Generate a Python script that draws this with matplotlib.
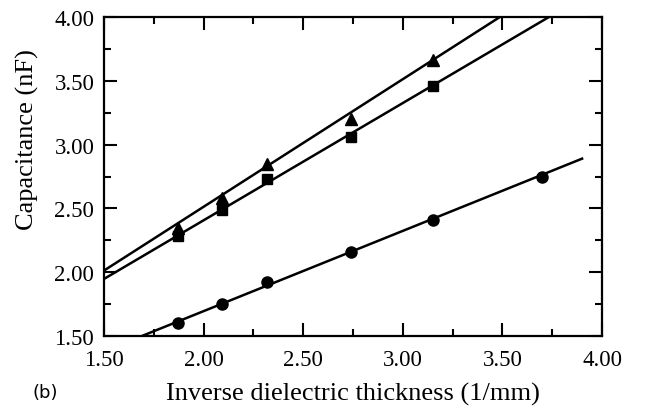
import numpy as np
import matplotlib.pyplot as plt
from matplotlib.ticker import MultipleLocator

# 数据：三组样品的电容与介电层厚度倒数
inv_thickness = [1.87, 2.09, 2.32, 2.74, 3.15, 3.70]
cap_circle = [1.60, 1.75, 1.92, 2.16, 2.41, 2.75]
cap_square = [2.28, 2.49, 2.73, 3.06, 3.46]
cap_triangle = [2.35, 2.58, 2.85, 3.20, 3.66]

# 拟合直线（斜率, 截距）
fit_circle = (0.629, 0.437)
fit_square = (0.919, 0.569)
fit_triangle = (1.0, 0.513)
fit_range = (1.5, 3.9)

x_ticks = [1.50, 2.00, 2.50, 3.00, 3.50, 4.00]
y_ticks = [1.50, 2.00, 2.50, 3.00, 3.50, 4.00]

plt.rcParams["font.family"] = ["Liberation Serif", "DejaVu Serif"]

fig = plt.figure(figsize=(6.55, 4.10), dpi=100)
ax = fig.add_axes([0.1588, 0.178, 0.7603, 0.778])

xs = np.linspace(fit_range[0], fit_range[1], 50)
for slope, intercept in (fit_circle, fit_square, fit_triangle):
    ax.plot(xs, slope * xs + intercept, color="black", lw=1.8)

n = len(cap_square)
ax.plot(inv_thickness, cap_circle, "o", color="black", ms=8)
ax.plot(inv_thickness[:n], cap_square, "s", color="black", ms=7.5)
ax.plot(inv_thickness[:n], cap_triangle, "^", color="black", ms=8)

ax.set_xlim(1.5, 4.0)
ax.set_ylim(1.5, 4.0)
ax.set_xticks(x_ticks)
ax.set_yticks(y_ticks)
ax.set_xticklabels(["%.2f" % v for v in x_ticks])
ax.set_yticklabels(["%.2f" % v for v in y_ticks])
ax.xaxis.set_minor_locator(MultipleLocator(0.25))
ax.yaxis.set_minor_locator(MultipleLocator(0.25))
ax.tick_params(which="both", direction="in", top=True, right=True, width=1.5)
ax.tick_params(which="major", length=9.5, labelsize=16.5)
ax.tick_params(axis="x", which="major", pad=9)
ax.tick_params(axis="y", which="major", pad=7)
ax.tick_params(which="minor", length=5)
for s in ax.spines.values():
    s.set_linewidth(1.6)

ax.set_xlabel("Inverse dielectric thickness (1/mm)", fontsize=19, labelpad=9)
ax.set_ylabel("Capacitance (nF)", fontsize=19)
ax.yaxis.set_label_coords(-0.13, 0.62)
fig.text(0.049, 0.03, "(b)", fontsize=13, family="DejaVu Sans")

fig.savefig("out.png", dpi=100)
